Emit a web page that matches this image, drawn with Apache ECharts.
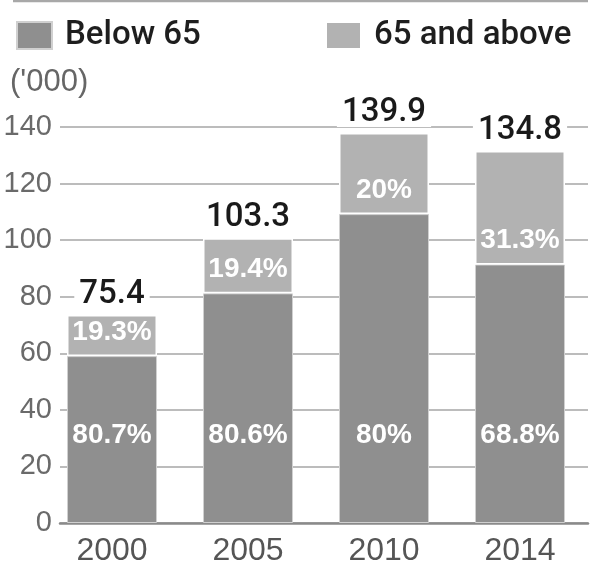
<!DOCTYPE html>
<html><head><meta charset="utf-8">
<script src="https://cdn.jsdelivr.net/npm/echarts@6/dist/echarts.min.js"></script>
<style>html,body{margin:0;padding:0;background:#fff}#c{width:598px;height:561px}</style>
</head><body><div id="c"></div>
<script>
// ---- data ----
const years = ['2000', '2005', '2010', '2014'];
const below65 = [59.0, 81.2, 109.2, 91.4];
const above65 = [14.5, 19.5, 28.7, 40.1];
const totalLabels = ['75.4', '103.3', '139.9', '134.8'];
const belowPct = ['80.7%', '80.6%', '80%', '68.8%'];
const abovePct = ['19.3%', '19.4%', '20%', '31.3%'];
const yTicks = [0, 20, 40, 60, 80, 100, 120, 140];
const unitLabel = "('000)";
const seriesNames = ['Below 65', '65 and above'];

// ---- styles ----
const SANS = "'Liberation Sans', Arial, sans-serif";
const ROBOTO = "Roboto, 'Liberation Sans', sans-serif";
const yMin = yTicks[0], yMax = yTicks[yTicks.length - 1], yStep = yTicks[1] - yTicks[0];

const chart = echarts.init(document.getElementById('c'));
chart.setOption({
  animation: false,
  backgroundColor: '#fff',
  graphic: [
    { type: 'line', shape: { x1: 13, y1: 1, x2: 588, y2: 1 }, style: { stroke: '#a8a8a8', lineWidth: 2.5 } },
    { type: 'text', left: 10, top: 67, style: { text: unitLabel, font: "31px " + SANS, fill: '#666' } }
  ],
  legend: [
    { data: [seriesNames[0]], left: 16, top: 19, icon: 'rect', itemWidth: 35, itemHeight: 27, padding: 0,
      textStyle: { fontFamily: ROBOTO, fontSize: 33, fontWeight: 500, color: '#1e1e1e', padding: [0, 0, 0, 8] } },
    { data: [seriesNames[1]], left: 325, top: 19, icon: 'rect', itemWidth: 35, itemHeight: 27, padding: 0,
      textStyle: { fontFamily: ROBOTO, fontSize: 33, fontWeight: 500, color: '#1e1e1e', padding: [0, 0, 0, 8] } }
  ],
  grid: [
    { left: 60, right: 10, top: 127, bottom: 38, outerBoundsMode: 'none', containLabel: false },
    { left: 44, right: 10, top: 127, bottom: 38, outerBoundsMode: 'none', containLabel: false }
  ],
  xAxis: [
    { type: 'category', gridIndex: 0, data: years,
      axisLine: { show: true, lineStyle: { color: '#8a8a8a', width: 2.5 } },
      axisTick: { show: false }, axisLabel: { show: false } },
    { type: 'category', gridIndex: 1, data: years,
      axisLine: { show: false }, axisTick: { show: false },
      axisLabel: { fontFamily: SANS, fontSize: 32, color: '#555', margin: 12 } }
  ],
  yAxis: [
    { type: 'value', gridIndex: 0, min: yMin, max: yMax, interval: yStep,
      axisLine: { show: false }, axisTick: { show: false },
      axisLabel: { fontFamily: SANS, fontSize: 29, color: '#6a6a6a', margin: 8 },
      splitLine: { lineStyle: { color: '#a6a6a6', width: 1.5 } } },
    { type: 'value', gridIndex: 1, min: yMin, max: yMax, interval: yStep, show: false, splitLine: { show: false } }
  ],
  series: [
    { name: seriesNames[0], type: 'bar', xAxisIndex: 1, yAxisIndex: 1, stack: 'a', barWidth: 90,
      data: below65,
      itemStyle: { color: '#8f8f8f', borderColor: '#d0d0d0', borderWidth: 1 },
      label: { show: true, position: 'insideBottom', distance: 74,
        formatter: p => belowPct[p.dataIndex],
        color: '#fff', fontFamily: SANS, fontWeight: 'bold', fontSize: 28 } },
    { name: seriesNames[1], type: 'bar', xAxisIndex: 1, yAxisIndex: 1, stack: 'a', barWidth: 90,
      data: above65,
      itemStyle: { color: '#b2b2b2', borderColor: '#fff', borderWidth: 1.5 },
      label: { show: true, position: 'insideBottom', distance: 10,
        formatter: p => abovePct[p.dataIndex],
        color: '#fff', fontFamily: SANS, fontWeight: 'bold', fontSize: 28 } },
    { name: 'total', type: 'bar', xAxisIndex: 1, yAxisIndex: 1, stack: 'a', barWidth: 90,
      data: years.map(() => 0), itemStyle: { color: 'transparent' }, z: 5,
      label: { show: true, position: 'top', distance: 6, lineHeight: 28,
        formatter: p => totalLabels[p.dataIndex],
        color: '#1a1a1a', fontFamily: ROBOTO, fontWeight: 500, fontSize: 33, backgroundColor: '#fff', padding: [0, 5] } }
  ]
});
</script></body></html>
